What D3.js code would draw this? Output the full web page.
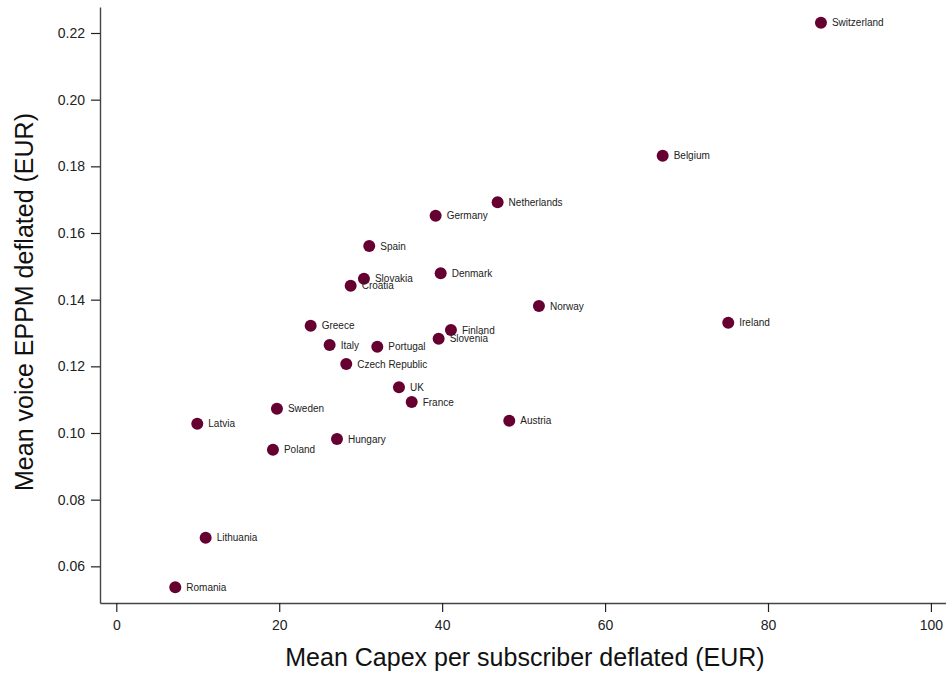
<!DOCTYPE html>
<html lang="en">
<head>
    <meta charset="UTF-8">
    <title>Capex vs voice EPPM</title>
    <script src="https://d3js.org/d3.v7.min.js"></script>
    <style>
        html, body {
            margin: 0;
            background: #fff;
            font-family: "Liberation Sans", Arial, sans-serif;
        }
    </style>
</head>
<body>
    <div id="vis"></div>

    <script>
        // data
        var countries = ["Switzerland", "Belgium", "Netherlands", "Germany", "Spain",
            "Slovakia", "Croatia", "Denmark", "Norway", "Ireland", "Greece", "Finland",
            "Slovenia", "Italy", "Portugal", "Czech Republic", "UK", "France", "Austria",
            "Sweden", "Latvia", "Hungary", "Poland", "Lithuania", "Romania"];
        var capex = [86.5, 67.07, 46.81, 39.2, 31.05,
            30.4, 28.77, 39.82, 51.88, 75.12, 23.86, 41.08,
            39.57, 26.19, 32.04, 28.23, 34.7, 36.26, 48.24,
            19.72, 9.94, 27.09, 19.23, 10.97, 7.24];
        var eppm = [0.2231, 0.1832, 0.1692, 0.1652, 0.1561,
            0.1463, 0.1442, 0.1479, 0.1381, 0.1331, 0.1322, 0.1309,
            0.1283, 0.1264, 0.1259, 0.1207, 0.1137, 0.1093, 0.1037,
            0.1073, 0.1028, 0.0982, 0.0950, 0.0686, 0.0537];
        var xTicks = [0, 20, 40, 60, 80, 100];
        var yTicks = [0.06, 0.08, 0.10, 0.12, 0.14, 0.16, 0.18, 0.20, 0.22];

        var points = countries.map(function(c, i) {
            return {name: c, x: capex[i], y: eppm[i]};
        });

        /*
         *  SETUP
         */
        var view_width = 946;
        var view_height = 673;
        var plot = {left: 100, right: 946, top: 7, bottom: 603};

        var svg = d3.select('#vis')
            .append('svg')
                .attr('width', view_width)
                .attr('height', view_height);

        var x_scale = d3.scaleLinear()
            .domain([-2, 101.85])
            .range([plot.left, plot.right]);

        var y_scale = d3.scaleLinear()
            .domain([0.049, 0.2278])
            .range([plot.bottom, plot.top]);

        /*
         *  AXES
         */
        var xAxis = svg.append('g')
            .attr('transform', 'translate(0,' + plot.bottom + ')')
            .call(d3.axisBottom(x_scale)
                .tickValues(xTicks)
                .tickFormat(d3.format('d'))
                .tickSizeOuter(0)
                .tickSizeInner(9)
                .tickPadding(8));

        var yAxis = svg.append('g')
            .attr('transform', 'translate(' + plot.left + ',0)')
            .call(d3.axisLeft(y_scale)
                .tickValues(yTicks)
                .tickFormat(d3.format('.2f'))
                .tickSizeOuter(0)
                .tickSizeInner(9)
                .tickPadding(6));

        svg.selectAll('.domain')
            .attr('stroke', '#444')
            .attr('stroke-width', 1.4);
        svg.selectAll('.tick line')
            .attr('stroke', '#222')
            .attr('stroke-width', 1.2);
        svg.selectAll('.tick text')
            .attr('fill', '#222')
            .style('font-family', '"Liberation Sans", Arial, sans-serif')
            .style('font-size', '14px');

        // axis titles
        svg.append('text')
            .attr('x', (plot.left + plot.right) / 2 + 2)
            .attr('y', 666)
            .attr('text-anchor', 'middle')
            .attr('fill', '#111')
            .style('font-size', '25px')
            .text('Mean Capex per subscriber deflated (EUR)');

        svg.append('text')
            .attr('transform', 'translate(33,' + 302 + ') rotate(-90)')
            .attr('text-anchor', 'middle')
            .attr('fill', '#111')
            .style('font-size', '25px')
            .text('Mean voice EPPM deflated (EUR)');

        /*
         *  POINTS
         */
        var dots = svg.append('g')
            .selectAll('.dot')
            .data(points)
            .enter()
            .append('g')
                .attr('class', 'dot')
                .attr('transform', function(d) {
                    return 'translate(' + x_scale(d.x) + ',' + y_scale(d.y) + ')';
                });

        dots.append('circle')
            .attr('r', 6)
            .attr('fill', '#660030');

        dots.append('text')
            .attr('x', 11)
            .attr('dy', '0.36em')
            .attr('fill', '#222')
            .style('font-size', '10px')
            .text(function(d) { return d.name; });
    </script>
</body>
</html>
